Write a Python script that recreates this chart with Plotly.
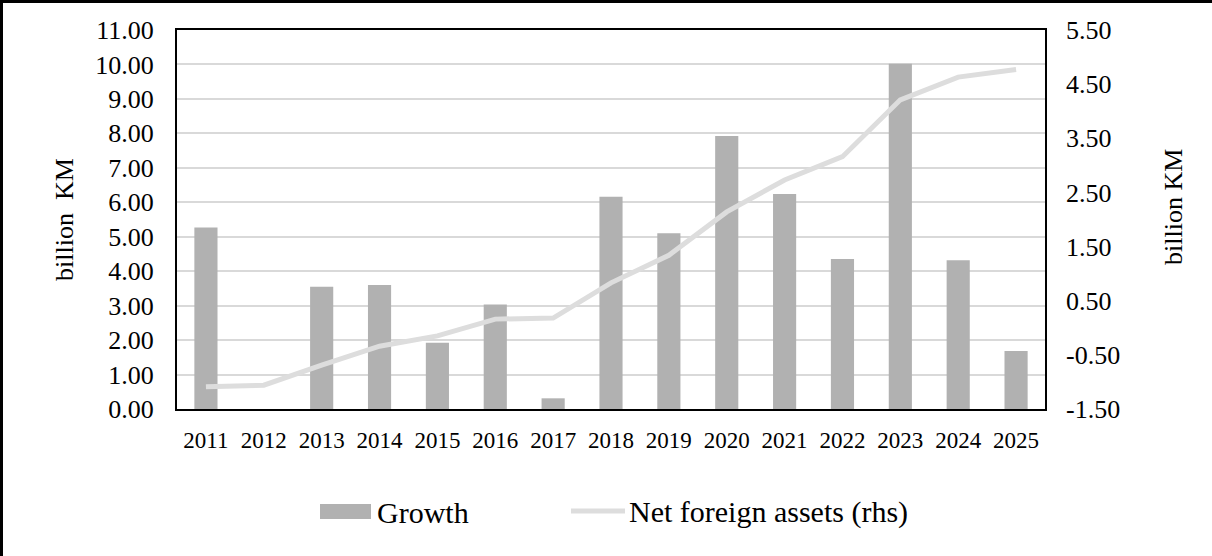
import plotly.graph_objects as go

# Data
years = ["2011", "2012", "2013", "2014", "2015", "2016", "2017", "2018",
         "2019", "2020", "2021", "2022", "2023", "2024", "2025"]
growth = [5.27, 0.00, 3.55, 3.60, 1.92, 3.03, 0.31, 6.16,
          5.10, 7.92, 6.24, 4.35, 10.02, 4.32, 1.68]
net_foreign_assets = [-1.09, -1.06, -0.69, -0.34, -0.15, 0.16, 0.18, 0.83,
                      1.34, 2.14, 2.73, 3.16, 4.21, 4.63, 4.77]

left_ticks = [0, 1, 2, 3, 4, 5, 6, 7, 8, 9, 10, 11]
right_ticks = [-1.5, -0.5, 0.5, 1.5, 2.5, 3.5, 4.5, 5.5]

FONT = "Liberation Serif"
BAR_COLOR = "#b1b1b1"
LINE_COLOR = "#dddddd"

fig = go.Figure()

fig.add_trace(go.Bar(
    x=years, y=growth, name="Growth",
    marker=dict(color=BAR_COLOR, line=dict(width=0)),
    width=0.4, showlegend=False, yaxis="y",
))

fig.add_trace(go.Scatter(
    x=years, y=net_foreign_assets, name="Net foreign assets (rhs)",
    mode="lines", line=dict(color=LINE_COLOR, width=5),
    showlegend=False, yaxis="y2",
))

L, R, T, B = 177, 167, 30, 147
W, H = 1212, 556
pw, ph = W - L - R, H - T - B


def px_x(px):
    return (px - L) / pw


def px_y(py):
    return (H - B - py) / ph


shapes = [
    # outer frame: top and left edges
    dict(type="line", xref="paper", yref="paper",
         x0=px_x(0), x1=px_x(W), y0=px_y(1.5), y1=px_y(1.5),
         line=dict(color="black", width=3)),
    dict(type="line", xref="paper", yref="paper",
         x0=px_x(1.5), x1=px_x(1.5), y0=px_y(0), y1=px_y(H),
         line=dict(color="black", width=3)),
    # legend swatches
    dict(type="rect", xref="paper", yref="paper",
         x0=px_x(320), x1=px_x(371), y0=px_y(519), y1=px_y(504),
         fillcolor=BAR_COLOR, line=dict(width=0)),
    dict(type="line", xref="paper", yref="paper",
         x0=px_x(571), x1=px_x(625), y0=px_y(511), y1=px_y(511),
         line=dict(color=LINE_COLOR, width=5)),
]

annotations = [
    dict(text="Growth", xref="paper", yref="paper", x=px_x(375), y=px_y(512),
         xanchor="left", yanchor="middle", showarrow=False,
         font=dict(family=FONT, size=30, color="black")),
    dict(text="Net foreign assets (rhs)", xref="paper", yref="paper",
         x=px_x(627), y=px_y(512), xanchor="left", yanchor="middle",
         showarrow=False, font=dict(family=FONT, size=30, color="black")),
    # right-hand axis title
    dict(text="billion KM", xref="paper", yref="paper",
         x=px_x(1173), y=px_y(207), xanchor="center", yanchor="middle",
         textangle=-90, showarrow=False,
         font=dict(family=FONT, size=26, color="black")),
]

fig.update_layout(
    width=W, height=H,
    margin=dict(l=L, r=R, t=T, b=B),
    paper_bgcolor="white", plot_bgcolor="white",
    font=dict(family=FONT, color="black"),
    shapes=shapes,
    annotations=annotations,
    xaxis=dict(
        type="category", range=[-0.5, 14.5],
        showline=True, linecolor="black", linewidth=2, mirror=True,
        showgrid=False, ticks="", tickfont=dict(family=FONT, size=23),
        ticklabelstandoff=9,
    ),
    yaxis=dict(
        range=[0, 11], tickvals=left_ticks,
        ticktext=[f"{v:.2f}" for v in left_ticks],
        showgrid=True, gridcolor="#d9d9d9", gridwidth=2,
        showline=True, linecolor="black", linewidth=2, mirror=True,
        zeroline=False, ticks="", tickfont=dict(family=FONT, size=26),
        ticklabelstandoff=16,
        title=dict(text="billion  KM", font=dict(family=FONT, size=26),
                   standoff=14),
    ),
    yaxis2=dict(
        range=[-1.5, 5.5], tickvals=right_ticks,
        ticktext=[f"{v:.2f}" for v in right_ticks],
        overlaying="y", side="right", showgrid=False, zeroline=False,
        showline=False, ticks="", tickfont=dict(family=FONT, size=26),
        ticklabelstandoff=20,
    ),
)

fig.write_html("out.html")
